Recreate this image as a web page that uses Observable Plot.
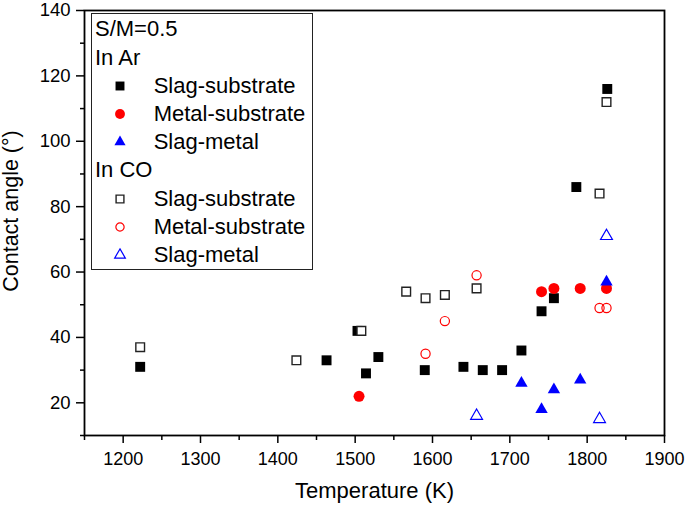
<!DOCTYPE html>
<html><head><meta charset="utf-8">
<script src="https://cdn.jsdelivr.net/npm/d3@7"></script>
<script src="https://cdn.jsdelivr.net/npm/@observablehq/plot@0.6"></script>
<style>
body{margin:0;background:#fff;font-family:"Liberation Sans",Arial,sans-serif;}
#wrap{position:relative;width:685px;height:506px;overflow:hidden;}
#legend{position:absolute;left:91px;top:12.7px;width:222px;height:257.3px;box-sizing:border-box;border:1px solid #222;background:#fff;padding:1.8px 0 0 3px;font-size:22px;line-height:28.2px;color:#000;}
.row{height:28.2px;white-space:nowrap;position:relative;}
.item{padding-left:58.7px;}
.item svg{position:absolute;left:14px;top:3.1px;}
</style>
</head><body>
<div id="wrap"><div id="legend"></div></div>
<script>
// ---- data ----
const xMajor = [1200, 1300, 1400, 1500, 1600, 1700, 1800, 1900];
const xMinor = [1150, 1250, 1350, 1450, 1550, 1650, 1750, 1850];
const yMajor = [20, 40, 60, 80, 100, 120, 140];
const yMinor = [10, 30, 50, 70, 90, 110, 130];

const arSlagSubT = [1222, 1463, 1503, 1514, 1530, 1590, 1640, 1665, 1690, 1715, 1741, 1757, 1786, 1826];
const arSlagSubA = [31, 33, 42, 29, 34, 30, 31, 30, 30, 36, 48, 52, 86, 116];
const arMetalSubT = [1505, 1741, 1757, 1791, 1825];
const arMetalSubA = [22, 54, 55, 55, 55];
const arSlagMetT = [1715, 1741, 1757, 1791, 1825];
const arSlagMetA = [26, 18, 24, 27, 57];
const coSlagSubT = [1222, 1424, 1508, 1566, 1591, 1616, 1657, 1816, 1825];
const coSlagSubA = [37, 33, 42, 54, 52, 53, 55, 84, 112];
const coMetalSubT = [1591, 1616, 1657, 1816, 1825];
const coMetalSubA = [35, 45, 59, 49, 49];
const coSlagMetT = [1657, 1816, 1825];
const coSlagMetA = [16, 15, 71];

const seriesNames = ["Slag-substrate", "Metal-substrate", "Slag-metal"];
const header = "S/M=0.5";
const groupNames = ["In Ar", "In CO"];
const xTitle = "Temperature (K)";
const yTitle = "Contact angle (°)";

// ---- styles ----
const series = [
  {group: 0, name: 0, T: arSlagSubT, A: arSlagSubA, symbol: "square", r: 5.6, fill: "#000", stroke: "none", sw: 0},
  {group: 0, name: 1, T: arMetalSubT, A: arMetalSubA, symbol: "circle", r: 5.5, fill: "#ff0000", stroke: "none", sw: 0},
  {group: 0, name: 2, T: arSlagMetT, A: arSlagMetA, symbol: "triangle", r: 4.6, fill: "#0000ff", stroke: "none", sw: 0},
  {group: 1, name: 0, T: coSlagSubT, A: coSlagSubA, symbol: "square", r: 4.9, fill: "#fff", stroke: "#222", sw: 1.4},
  {group: 1, name: 1, T: coMetalSubT, A: coMetalSubA, symbol: "circle", r: 4.6, fill: "none", stroke: "#ff0000", sw: 1.2},
  {group: 1, name: 2, T: coSlagMetT, A: coSlagMetA, symbol: "triangle", r: 4.4, fill: "#fff", stroke: "#0000ff", sw: 1.2}
];

const dots = series.map(s => Plot.dot(s.T.map((t, i) => ({T: t, A: s.A[i]})), {
  x: "T", y: "A", symbol: () => s.symbol, r: s.r, fill: s.fill, stroke: s.stroke, strokeWidth: s.sw
}));

const font = "'Liberation Sans', Arial, sans-serif";
const plot = Plot.plot({
  width: 685, height: 506,
  marginLeft: 84, marginRight: 21, marginTop: 10, marginBottom: 71,
  x: {domain: [1150, 1900]},
  y: {domain: [10, 140]},
  style: {fontFamily: font, color: "#000", background: "#fff"},
  marks: [
    Plot.axisX({ticks: xMajor, tickSize: 8, tickPadding: 9, fontSize: 18, label: null, strokeWidth: 1.5, tickFormat: d => String(d)}),
    Plot.axisX({ticks: xMinor, tickSize: 5, tickFormat: () => "", label: null, strokeWidth: 1.5}),
    Plot.axisY({ticks: yMajor, tickSize: 8, tickPadding: 6, fontSize: 18.5, label: null, strokeWidth: 1.5}),
    Plot.axisY({ticks: yMinor, tickSize: 4, tickFormat: () => "", label: null, strokeWidth: 1.5}),
    ...dots,
    Plot.frame({stroke: "#000", strokeWidth: 1.8}),
    Plot.text([xTitle], {frameAnchor: "bottom", lineAnchor: "bottom", textAnchor: "middle", dy: 62, fontSize: 22, text: d => d, fill: "#000"}),
    Plot.text([yTitle], {frameAnchor: "left", textAnchor: "middle", lineAnchor: "middle", rotate: -90, dx: -73, dy: -12, fontSize: 21.5, text: d => d, fill: "#000"})
  ]
});
const wrap = document.getElementById("wrap");
wrap.insertBefore(plot, wrap.firstChild);

// ---- legend ----
const legend = document.getElementById("legend");
function addRow(text, s) {
  const row = document.createElement("div");
  row.className = "row" + (s ? " item" : "");
  if (s) {
    const size = 22;
    const svg = d3.create("svg").attr("width", size).attr("height", size)
      .attr("viewBox", `${-size/2} ${-size/2} ${size} ${size}`);
    const symMap = {square: d3.symbolSquare, circle: d3.symbolCircle, triangle: d3.symbolTriangle};
    const rr = s.r * 0.9;
    svg.append("path").attr("d", d3.symbol(symMap[s.symbol], rr * rr * Math.PI)())
      .attr("fill", s.fill).attr("stroke", s.stroke).attr("stroke-width", s.sw);
    row.appendChild(svg.node());
  }
  row.appendChild(document.createTextNode(text));
  legend.appendChild(row);
}
addRow(header);
groupNames.forEach((g, gi) => {
  addRow(g);
  series.filter(s => s.group === gi).forEach(s => addRow(seriesNames[s.name], s));
});
</script>
</body></html>
